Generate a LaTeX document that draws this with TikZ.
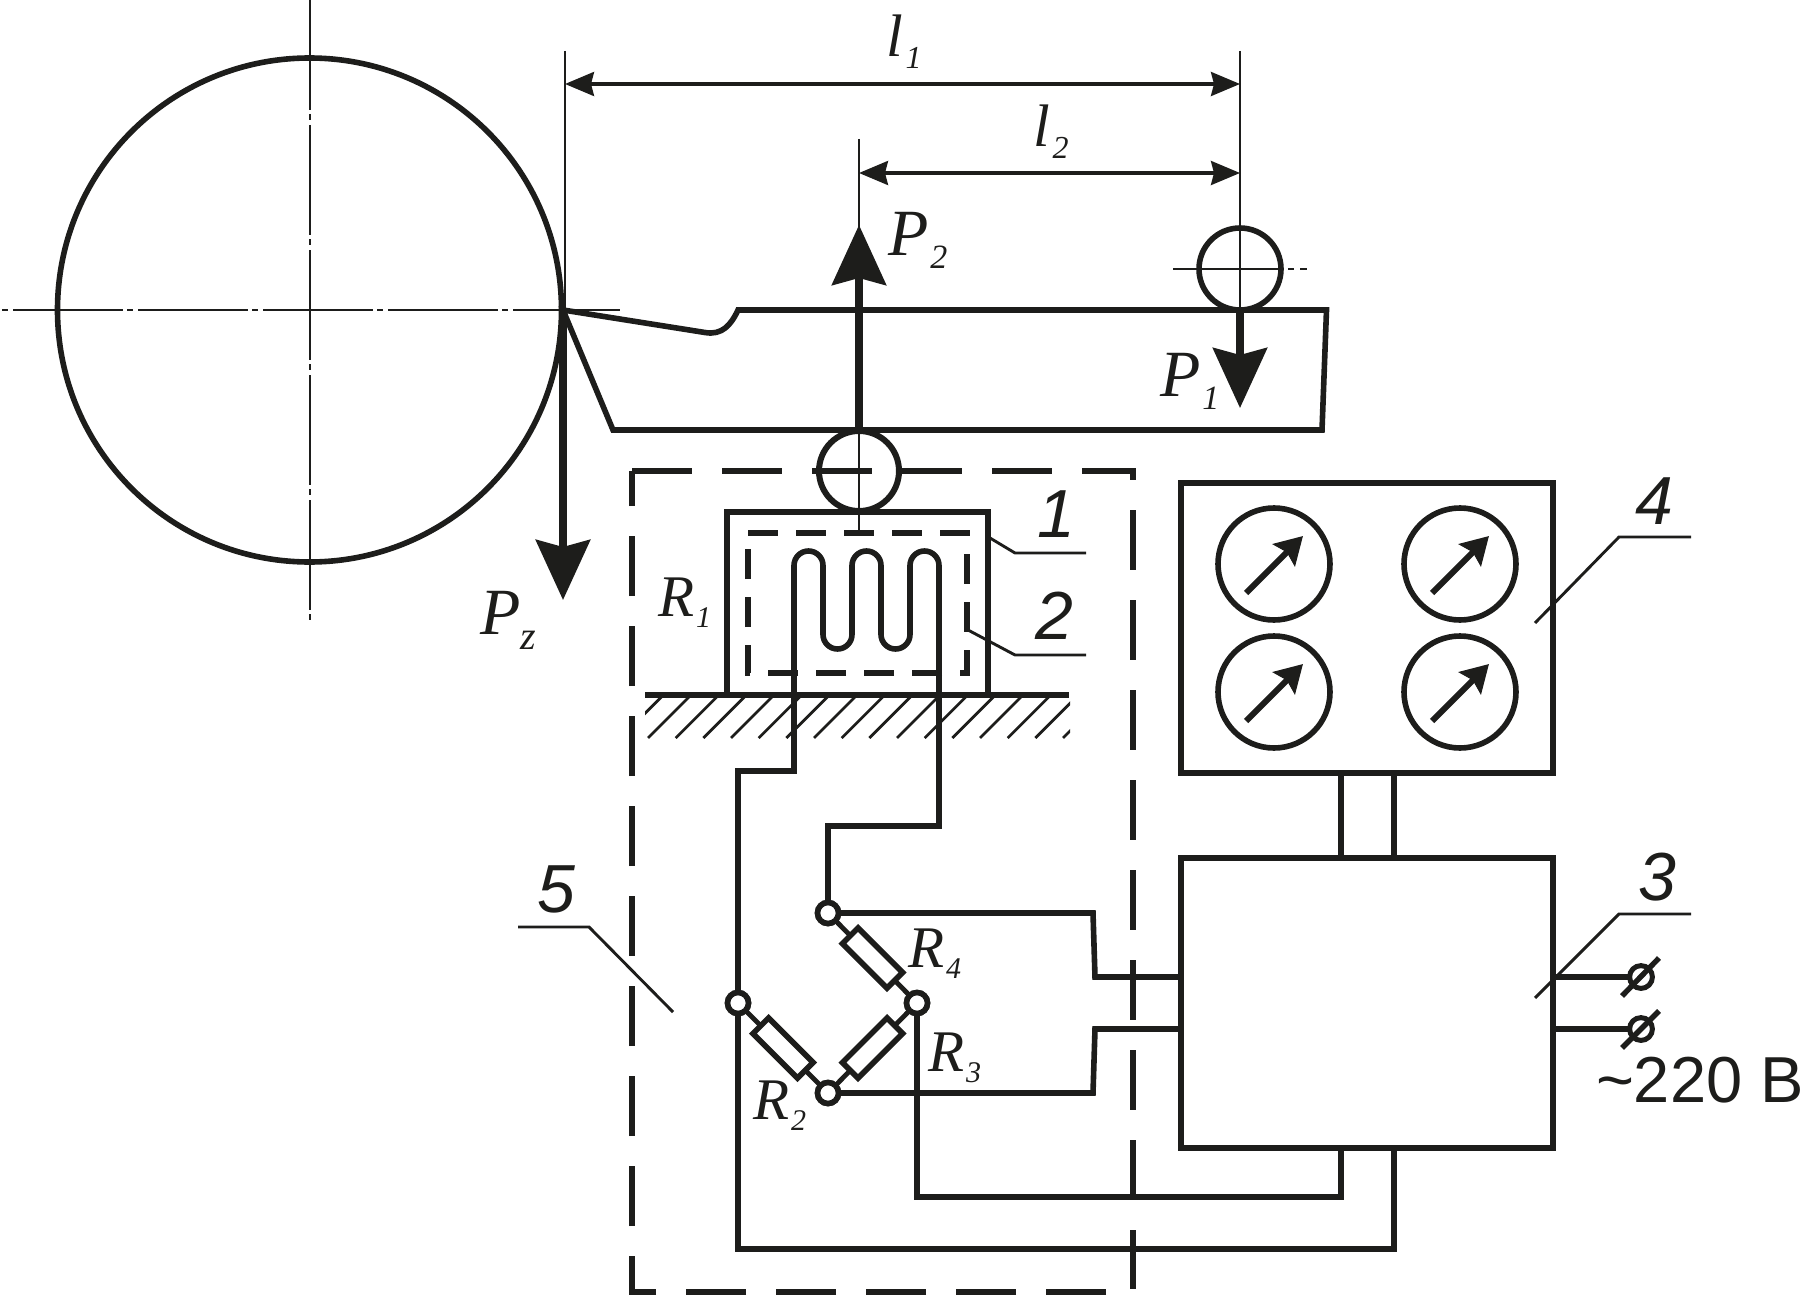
\documentclass[tikz,border=0pt]{standalone}
\usepackage{fontspec}
\setmainfont{Liberation Serif}
\newfontfamily\numfont{Liberation Sans}
\usetikzlibrary{arrows.meta,calc}
\definecolor{ink}{HTML}{1D1D1B}
% letter, subscript: size in pt, kern and drop in pt
\newcommand{\biglab}[2]{\fontsize{33}{33}\selectfont\itshape #1\kern1pt\raisebox{-6.5pt}{\fontsize{17}{17}\selectfont #2}}
\newcommand{\reslab}[2]{\fontsize{29.5}{29.5}\selectfont\itshape #1\kern1pt\raisebox{-5.5pt}{\fontsize{15}{15}\selectfont #2}}
\newcommand{\llab}[2]{\fontsize{30}{30}\selectfont\itshape #1\kern1.5pt\raisebox{-6pt}{\fontsize{16}{16}\selectfont #2}}
\tikzset{
  mainline/.style={line width=2.8pt,line join=miter},
  thinline/.style={line width=1.45pt},
  centerline/.style={line width=1.2pt,dash pattern=on 55pt off 2pt on 3pt off 2.5pt},
  dashA/.style={line width=2.8pt,dash pattern=on 30pt off 15pt},
  dashB/.style={line width=2.7pt,dash pattern=on 15pt off 9pt},
  force/.style={line width=3.6pt,-{Stealth[length=30pt,width=27pt,inset=3.5pt]}},
  dimen/.style={line width=1.6pt,{Stealth[length=14.5pt,width=12pt,inset=1.5pt]}-{Stealth[length=14.5pt,width=12pt,inset=1.5pt]}},
  needle/.style={line width=3pt,-{Stealth[length=13.5pt,width=15.5pt,inset=2pt]}},
  boxnode/.style={draw,mainline,rectangle,inner sep=0pt,outer sep=0pt},
  ringnode/.style={draw,mainline,circle,inner sep=0pt,outer sep=0pt},
  junction/.style={ringnode,fill=white,minimum size=10.5pt},
  gauge/.style={ringnode,minimum size=56pt},
  terminal/.style={ringnode,line width=2.5pt,minimum size=11.4pt},
  resistor/.style={boxnode,fill=white,minimum width=31.5pt,minimum height=11pt},
  lab/.style={inner sep=0pt,outer sep=0pt,anchor=base west,text=ink},
  numlab/.style={lab,font=\numfont\itshape\fontsize{34}{34}\selectfont},
}
\begin{document}
\begin{tikzpicture}[x=0.5pt,y=-0.5pt,color=ink]
\useasboundingbox (0,0) rectangle (1805,1295);

% workpiece and its centre lines
\node[ringnode,minimum size=252pt] (work) at (309.5,310) {};
\coordinate (cl1) at (310,0); \coordinate (cl2) at (310,620);
\coordinate (cl3) at (0,310); \coordinate (cl4) at (620,310);
\draw[centerline] (cl1) -- (cl2);
\draw[centerline,dash phase=56pt] (cl3) -- (cl4);

% dimension extension lines
\coordinate (e1) at (565,51); \coordinate (e1b) at (565,310);
\coordinate (e2) at (1240,51); \coordinate (e2b) at (1240,310);
\coordinate (e3) at (859,139); \coordinate (e3b) at (859,533);
\draw[thinline] (e1) -- (e1b);
\draw[thinline] (e2) -- (e2b);
\draw[thinline] (e3) -- (e3b);
\coordinate (d1a) at (565,84); \coordinate (d1b) at (1240,84);
\coordinate (d2a) at (859,173); \coordinate (d2b) at (1240,173);
\draw[dimen] (d1a) -- (d1b);
\draw[dimen] (d2a) -- (d2b);
\node[lab] (l1) at (886,57) {\llab{l}{1}};
\node[lab] (l2) at (1033,147) {\llab{l}{2}};

% cutter
\coordinate (tip) at (563,310);
\draw[mainline] (tip) -- (705,332.5) .. controls (722,335.5) and (731,325) .. (738,310)
  -- (1326.5,310) -- (1322,430) -- (613,430) -- cycle;

% supports
\node[ringnode,minimum size=41pt] (supp1) at (1240,269) {};
\node[ringnode,line width=3pt,minimum size=40pt] (supp2) at (859,471) {};
\coordinate (h1) at (1173,269); \coordinate (h2) at (1278,269);
\coordinate (h3) at (1288,269); \coordinate (h4) at (1294,269);
\coordinate (h5) at (1300,269); \coordinate (h6) at (1307,269);
\draw[thinline] (h1) -- (h2) (h3) -- (h4) (h5) -- (h6);

% forces
\coordinate (p1e) at (1240,408); \coordinate (p2e) at (859,225); \coordinate (pze) at (563,600);
\draw[force] (supp1.south) -- (p1e);
\draw[force] (supp2.north) -- (p2e);
\draw[force,line width=3.9pt] (tip) -- (pze);
\node[lab] (p2) at (888,255) {\biglab{P}{2}};
\node[lab] (p1) at (1160,396) {\biglab{P}{1}};
\node[lab] (pz) at (480,634) {\biglab{P}{\kern-1pt\raisebox{-1pt}{\fontsize{20}{20}\selectfont z}}};

% dashed enclosure 5
\draw[dashA] (632,471) -- (1133,471) -- (1133,1289);
\draw[dashA] (1106,1292) -- (632,1292) -- (632,471);

% ground
\coordinate (g1) at (645,695); \coordinate (g2) at (1069,695);
\begin{scope}
\clip (645,696) rectangle (1070,738);
\foreach \k in {-1,...,15}{
  \draw[line width=1.35pt] ({648+27.67*\k},738) -- ({648+27.67*\k+43},695);
}
\end{scope}

% sensor block 1, dashed film 2, meander R1
\node[boxnode,minimum width=130.5pt,minimum height=91.5pt] (b1) at (857.5,603.5) {};
\draw[line width=3pt] (g1) -- (g2);
\draw[dashB] (748,533) -- (967,533) -- (967,673) -- (748,673) -- (748,533);

% bridge
\node[junction] (jt) at (828,913) {};
\node[junction] (jl) at (738,1003) {};
\node[junction] (jr) at (917,1003) {};
\node[junction] (jb) at (828,1093) {};

% boxes
\node[boxnode,minimum width=186pt,minimum height=145pt] (b4) at (1367,628) {};
\node[boxnode,minimum width=186pt,minimum height=145pt] (b3) at (1367,1003) {};
\coordinate (xa) at (1341,0); \coordinate (xb) at (1394,0);
\coordinate (ya) at (0,977); \coordinate (yb) at (0,1029);
\draw[mainline] (b4.south -| xa) -- (b3.north -| xa);
\draw[mainline] (b4.south -| xb) -- (b3.north -| xb);

% wires
\draw[mainline] (jl.north) -- (738,771) -- (794,771) -- (794,565.5)
  arc[start angle=180,end angle=0,radius=7.25pt] -- (823,634.5)
  arc[start angle=180,end angle=360,radius=7.25pt] -- (852,565.5)
  arc[start angle=180,end angle=0,radius=7.25pt] -- (881,634.5)
  arc[start angle=180,end angle=360,radius=7.25pt] -- (910,565.5)
  arc[start angle=180,end angle=0,radius=7.25pt] -- (939,826) -- (828,826) -- (jt.north);
\draw[mainline] (jt.east) -- (1093,913) -- (1095,977) -- (b3.west |- ya);
\draw[mainline] (jb.east) -- (1093,1093) -- (1095,1029) -- (b3.west |- yb);
\draw[mainline] (jr.south) -- (917,1197) -- (1341,1197) -- (b3.south -| xa);
\draw[mainline] (jl.south) -- (738,1249) -- (1394,1249) -- (b3.south -| xb);

% resistors
\draw[line width=2.4pt] (jt) -- (jr) -- (jb) -- (jl);
\node[resistor,rotate=-45] (r4) at ($(jt)!0.5!(jr)$) {};
\node[resistor,rotate=45] (r3) at ($(jr)!0.5!(jb)$) {};
\node[resistor,rotate=-45] (r2) at ($(jl)!0.5!(jb)$) {};
\node[junction] at (jt) {};
\node[junction] at (jl) {};
\node[junction] at (jr) {};
\node[junction] at (jb) {};
\node[lab] (r1l) at (658,616) {\reslab{R}{1}};
\node[lab] (r4l) at (908,967) {\reslab{R}{4}};
\node[lab] (r3l) at (928,1071) {\reslab{R}{3}};
\node[lab] (r2l) at (753,1119) {\reslab{R}{2}};

% gauges
\foreach \n/\cx/\cy in {ga/1274/564,gb/1460/564,gc/1274/692,gd/1460/692}{
  \node[gauge] (\n) at (\cx,\cy) {};
  \draw[needle] ($(\n)+(-28,29)$) -- ($(\n)+(29,-28)$);
}

% mains terminals
\node[terminal] (ta) at (1641,977) {};
\node[terminal] (tb) at (1641,1029) {};
\draw[mainline] (b3.east |- ya) -- (ta.west);
\draw[mainline] (b3.east |- yb) -- (tb.west);
\draw[line width=2.7pt] ($(ta)+(-19,19)$) -- ($(ta)+(18,-19)$);
\draw[line width=2.7pt] ($(tb)+(-19,19)$) -- ($(tb)+(18,-18)$);
\node[lab,font=\numfont\fontsize{32.5}{32.5}\selectfont] (volt) at (1596,1102) {\textasciitilde 220 В};

% leaders and numerals
\draw[thinline] (990,538) -- (1015,553) -- (1086,553);
\draw[thinline] (968,630) -- (1015,655) -- (1086,655);
\draw[thinline] (1535,623) -- (1619,537) -- (1691,537);
\draw[thinline] (1535,998) -- (1619,914) -- (1691,914);
\draw[thinline] (518,927) -- (589,927) -- (673,1012);
\node[numlab] (n1) at (1037,537) {1};
\node[numlab] (n2) at (1035,639) {2};
\node[numlab] (n3) at (1638,900) {3};
\node[numlab] (n4) at (1635,524) {4};
\node[numlab] (n5) at (537,912) {5};
\end{tikzpicture}
\end{document}
